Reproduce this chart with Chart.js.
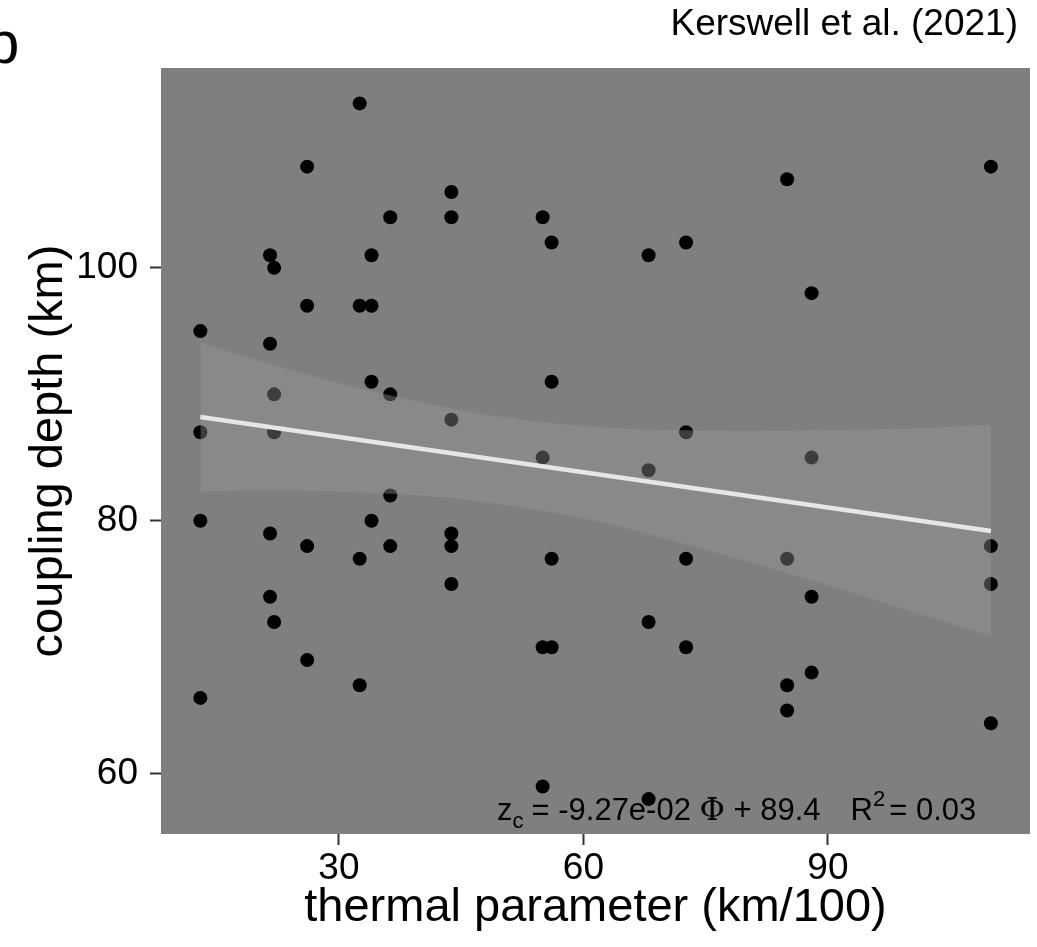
<!DOCTYPE html>
<html>
<head>
<meta charset="utf-8">
<script src="https://cdn.jsdelivr.net/npm/chart.js@4.4.1/dist/chart.umd.min.js"></script>
<style>
  html, body { margin: 0; padding: 0; background: #ffffff; }
  #wrap { width: 1037px; height: 947px; }
</style>
</head>
<body>
<div id="wrap"><canvas id="chart" width="1037" height="947"></canvas></div>
<script>
// thermal parameter (km/100) per segment
var thermalParam = [
  13.0, 13.0, 13.0, 13.0,
  21.55, 21.55, 21.55, 21.55,
  22.05, 22.05, 22.05, 22.05,
  26.1, 26.1, 26.1, 26.1,
  32.55, 32.55, 32.55, 32.55,
  34.0, 34.0, 34.0, 34.0,
  36.3, 36.3, 36.3, 36.3,
  43.8, 43.8, 43.8, 43.8, 43.8, 43.8,
  55.0, 55.0, 55.0, 55.0,
  56.1, 56.1, 56.1, 56.1,
  68.0, 68.0, 68.0, 68.0,
  72.6, 72.6, 72.6, 72.6,
  85.0, 85.0, 85.0, 85.0,
  88.0, 88.0, 88.0, 88.0,
  110.0, 110.0, 110.0, 110.0
];
// coupling depth (km)
var couplingDepth = [
  95, 87, 80, 66,
  101, 94, 79, 74,
  100, 90, 87, 72,
  108, 97, 78, 69,
  113, 97, 77, 67,
  101, 97, 91, 80,
  104, 90, 82, 78,
  106, 104, 88, 79, 78, 75,
  104, 85, 70, 59,
  102, 91, 77, 70,
  101, 84, 72, 58,
  102, 87, 77, 70,
  107, 77, 67, 65,
  98, 85, 74, 68,
  108, 78, 75, 64
];

// linear fit and its confidence band
var fitX = [13, 110];
var fitY = [88.2, 79.2];
var bandX = [13, 20, 30, 40, 50, 60, 70, 80, 90, 100, 110];
var bandUpper = [94.1, 92.7, 90.9, 89.4, 88.2, 87.5, 87.2, 87.1, 87.2, 87.3, 87.6];
var bandLower = [82.3, 82.4, 82.3, 82.0, 81.3, 80.2, 78.6, 76.8, 74.9, 72.9, 70.9];

var xTicks = [30, 60, 90];
var yTicks = [60, 80, 100];
var xRange = [8.17, 114.8];
var yRange = [55.24, 115.8];

var sans = "'Liberation Sans', Arial, sans-serif";

function zip(xs, ys) {
  return xs.map(function (x, i) { return { x: x, y: ys[i] }; });
}

// grey panel behind the data
var panelBg = {
  id: 'panelBg',
  beforeDraw: function (chart) {
    var a = chart.chartArea, ctx = chart.ctx;
    ctx.save();
    ctx.fillStyle = '#7f7f7f';
    ctx.fillRect(a.left, a.top, a.right - a.left, a.bottom - a.top);
    ctx.restore();
  }
};

// extra texts: panel letter, citation and the fit equation
var labels = {
  id: 'labels',
  afterDraw: function (chart) {
    var ctx = chart.ctx;
    ctx.save();
    ctx.fillStyle = '#000';
    ctx.textBaseline = 'alphabetic';

    ctx.font = '60px ' + sans;
    ctx.textAlign = 'left';
    ctx.fillText('b', -14, 63);

    ctx.font = '37px ' + sans;
    ctx.textAlign = 'right';
    ctx.fillText('Kerswell et al. (2021)', 1018, 35);

    // z_c = -9.27e-02 Φ + 89.4    R² = 0.03
    ctx.textAlign = 'left';
    var x = 497, base = 820;
    function put(t, font, dy) {
      ctx.font = font;
      ctx.fillText(t, x, base + (dy || 0));
      x += ctx.measureText(t).width;
    }
    put('z', '31px ' + sans);
    put('c', '22px ' + sans, 8);
    x += 8;
    put('= -9.27e-02 ', '31px ' + sans);
    put('\u03A6', '31px "DejaVu Serif", serif');
    put(' + 89.4', '31px ' + sans);
    x += 30;
    put('R', '31px ' + sans);
    put('2', '22px ' + sans, -14);
    x += 4;
    put('= 0.03', '31px ' + sans);
    ctx.restore();
  }
};

var ctx = document.getElementById('chart').getContext('2d');
var chart = new Chart(ctx, {
  type: 'scatter',
  data: {
    datasets: [
      {
        type: 'line',
        label: 'fit',
        data: zip(fitX, fitY),
        borderColor: '#e6e6e6',
        borderWidth: 4.5,
        pointRadius: 0,
        fill: false,
        order: 0
      },
      {
        type: 'line',
        label: 'band upper',
        data: zip(bandX, bandUpper),
        borderWidth: 0,
        borderColor: 'rgba(0,0,0,0)',
        backgroundColor: 'rgba(153,153,153,0.4)',
        pointRadius: 0,
        cubicInterpolationMode: 'monotone',
        fill: '+1',
        order: 1
      },
      {
        type: 'line',
        label: 'band lower',
        data: zip(bandX, bandLower),
        borderWidth: 0,
        borderColor: 'rgba(0,0,0,0)',
        pointRadius: 0,
        cubicInterpolationMode: 'monotone',
        fill: false,
        order: 2
      },
      {
        label: 'segments',
        data: zip(thermalParam, couplingDepth),
        backgroundColor: '#000000',
        borderWidth: 0,
        pointRadius: 7,
        order: 3
      }
    ]
  },
  options: {
    responsive: false,
    animation: false,
    devicePixelRatio: 1,
    layout: { padding: { left: 0, right: 5, top: 68, bottom: 0 } },
    plugins: {
      legend: { display: false },
      tooltip: { enabled: false }
    },
    scales: {
      x: {
        type: 'linear',
        min: xRange[0],
        max: xRange[1],
        afterBuildTicks: function (s) { s.ticks = xTicks.map(function (v) { return { value: v }; }); },
        afterFit: function (s) { s.height = 113; },
        border: { display: false },
        grid: { drawOnChartArea: false, drawTicks: true, tickLength: 11, tickColor: '#333333', tickWidth: 2 },
        ticks: { color: '#000', padding: 2, font: { family: sans, size: 37 } },
        title: {
          display: true,
          text: 'thermal parameter (km/100)',
          color: '#000',
          font: { family: sans, size: 47 },
          padding: { top: 0, bottom: 11 }
        }
      },
      y: {
        type: 'linear',
        min: yRange[0],
        max: yRange[1],
        afterBuildTicks: function (s) { s.ticks = yTicks.map(function (v) { return { value: v }; }); },
        afterFit: function (s) { s.width = 161; },
        border: { display: false },
        grid: { drawOnChartArea: false, drawTicks: true, tickLength: 11, tickColor: '#333333', tickWidth: 2 },
        ticks: { color: '#000', padding: 12, font: { family: sans, size: 37 } },
        title: {
          display: true,
          text: 'coupling depth (km)',
          color: '#000',
          font: { family: sans, size: 47 },
          padding: { top: 21, bottom: 0 }
        }
      }
    }
  },
  plugins: [panelBg, labels]
});
</script>
</body>
</html>
